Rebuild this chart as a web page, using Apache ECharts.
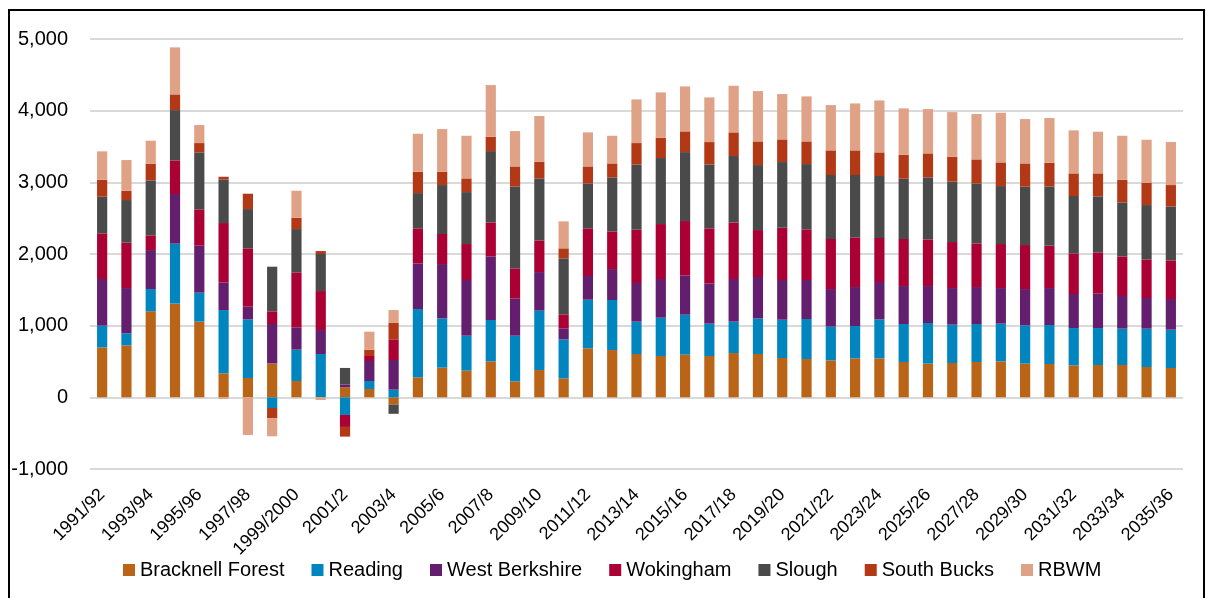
<!DOCTYPE html>
<html>
<head>
<meta charset="utf-8">
<script src="https://cdn.jsdelivr.net/npm/echarts@6/dist/echarts.min.js"></script>
<style>
  html, body { margin: 0; padding: 0; background: #fff; }
  #container { width: 1209px; height: 598px; }
  #frame { position: absolute; left: 8px; top: 9px; width: 1193px; height: 600px; border: 2px solid #000; pointer-events: none; }
</style>
</head>
<body>
<div id="container"></div>
<div id="frame"></div>
<script>
var years = ['1991/92','1992/93','1993/94','1994/95','1995/96','1996/97','1997/98','1998/99','1999/2000','2000/01',
  '2001/2','2002/3','2003/4','2004/5','2005/6','2006/7','2007/8','2008/9','2009/10','2010/11',
  '2011/12','2012/13','2013/14','2014/15','2015/16','2016/17','2017/18','2018/19','2019/20','2020/21',
  '2021/22','2022/23','2023/24','2024/25','2025/26','2026/27','2027/28','2028/29','2029/30','2030/31',
  '2031/32','2032/33','2033/34','2034/35','2035/36'];

var bracknell = [697, 725, 1200, 1307, 1056, 335, 270, 474, 228, 0,
  140, 116, -100, 279, 414, 372, 502, 223, 381, 265,
  684, 660, 605, 577, 595, 577, 618, 605, 549, 535,
  516, 544, 544, 493, 470, 479, 493, 502, 470, 465,
  446, 451, 451, 423, 409];
var reading = [303, 168, 311, 837, 404, 883, 818, -149, 437, 605,
  -246, 112, 107, 953, 688, 488, 577, 637, 828, 544,
  678, 698, 451, 534, 558, 451, 438, 497, 534, 558,
  470, 451, 544, 530, 567, 535, 530, 526, 534, 544,
  521, 516, 507, 535, 535];
var westBerks = [651, 632, 544, 693, 656, 386, 177, 549, 312, 334,
  37, 279, 414, 637, 758, 777, 888, 521, 539, 154,
  331, 432, 539, 540, 549, 562, 595, 577, 554, 544,
  525, 544, 521, 530, 516, 511, 516, 497, 507, 516,
  475, 479, 456, 428, 428];
var wokingham = [637, 633, 205, 469, 507, 828, 814, 177, 767, 544,
  -167, 70, 288, 489, 419, 502, 474, 419, 442, 195,
  665, 526, 744, 767, 758, 768, 790, 655, 730, 707,
  698, 693, 614, 656, 651, 642, 609, 614, 614, 591,
  567, 577, 553, 539, 539];
var slough = [511, 595, 767, 702, 795, 609, 548, 623, 604, 517,
  233, 0, -130, 492, 683, 725, 995, 1143, 865, 781,
  627, 753, 911, 921, 962, 892, 926, 907, 916, 911,
  893, 870, 865, 841, 865, 842, 837, 809, 814, 827,
  800, 781, 753, 758, 753];
var southBucks = [237, 130, 233, 219, 130, 37, 214, -144, 158, 41,
  -135, 88, 233, 298, 186, 191, 200, 279, 233, 140,
  237, 195, 298, 283, 289, 312, 330, 330, 316, 316,
  344, 344, 330, 335, 335, 348, 335, 330, 325, 331,
  316, 321, 316, 312, 298];
var rbwm = [396, 428, 321, 656, 251, -23, -525, -251, 377, -37,
  0, 251, 176, 530, 595, 595, 721, 493, 637, 376,
  475, 386, 609, 633, 627, 623, 651, 702, 633, 628,
  632, 655, 725, 647, 618, 623, 633, 693, 619, 623,
  600, 581, 614, 599, 600];

var seriesNames = ['Bracknell Forest', 'Reading', 'West Berkshire', 'Wokingham', 'Slough', 'South Bucks', 'RBWM'];
var seriesData = [bracknell, reading, westBerks, wokingham, slough, southBucks, rbwm];
var colors = ['#BA6418', '#0085BF', '#631E6E', '#AA0033', '#4A4A4A', '#B23816', '#DFA286'];

var font = '"Liberation Sans", Arial, sans-serif';

var dom = document.getElementById('container');
var myChart = echarts.init(dom, null, { renderer: 'canvas' });

var series = [];
for (var i = 0; i < seriesNames.length; i++) {
  series.push({
    name: seriesNames[i],
    type: 'bar',
    stack: 'total',
    barWidth: '42%',
    data: seriesData[i],
    itemStyle: { color: colors[i] }
  });
}

var option = {
  animation: false,
  textStyle: { fontFamily: font },
  color: colors,
  grid: { left: 90, right: 26, top: 39, bottom: 129 },
  legend: {
    top: 555,
    left: 118,
    icon: 'rect',
    itemWidth: 12,
    itemHeight: 12,
    itemGap: 27,
    textStyle: { fontSize: 20, color: '#000' },
    data: seriesNames
  },
  xAxis: {
    type: 'category',
    data: years,
    axisLine: { show: false },
    axisTick: { show: false },
    axisLabel: { interval: 1, rotate: 45, fontSize: 18, color: '#000', margin: 23 }
  },
  yAxis: {
    type: 'value',
    min: -1000,
    max: 5000,
    interval: 1000,
    axisLine: { show: false },
    axisTick: { show: false },
    axisLabel: {
      fontSize: 20,
      color: '#000',
      margin: 22,
      formatter: function (v) { return v.toLocaleString('en-US'); }
    },
    splitLine: { lineStyle: { color: '#d9d9d9', width: 2 } }
  },
  series: series
};

myChart.setOption(option);
window.addEventListener('resize', myChart.resize);
</script>
</body>
</html>
